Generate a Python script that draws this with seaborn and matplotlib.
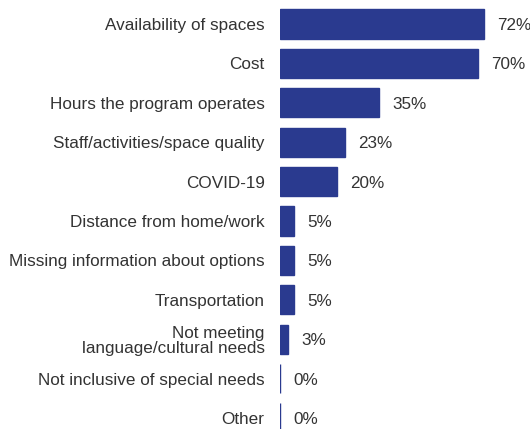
import matplotlib
matplotlib.use("Agg")
import matplotlib.pyplot as plt
import seaborn as sns
import pandas as pd

categories = [
    "Availability of spaces",
    "Cost",
    "Hours the program operates",
    "Staff/activities/space quality",
    "COVID-19",
    "Distance from home/work",
    "Missing information about options",
    "Transportation",
    "Not meeting\nlanguage/cultural needs",
    "Not inclusive of special needs",
    "Other",
]
values = [72, 70, 35, 23, 20, 5, 5, 5, 3, 0, 0]

df = pd.DataFrame({"reason": categories, "pct": values})

sns.set_style("white")
plt.rcParams["font.family"] = ["Liberation Sans", "DejaVu Sans"]

fig = plt.figure(figsize=(5.30, 4.29), dpi=100)
ax = fig.add_axes([280 / 530, 0, 250 / 530, 1])

bar_color = "#2A3A8F"
text_color = "#333333"
sns.barplot(data=df, x="pct", y="reason", orient="h", color=bar_color,
            saturation=1, width=0.74, edgecolor=bar_color, linewidth=1, ax=ax)

ax.set_xlim(0, 250 / 2.83)
ax.set_ylim(10 + 11 / 39.4, -24 / 39.4)
sns.despine(ax=ax, left=True, bottom=True)
ax.set_xticks([])
ax.set_xlabel("")
ax.set_ylabel("")
ax.tick_params(axis="y", length=0, pad=11, labelsize=12.3, labelcolor=text_color)
for lab in ax.get_yticklabels():
    lab.set_horizontalalignment("right")
    lab.set_linespacing(1.0)

for i, v in enumerate(values):
    ax.annotate(f"{v}%", xy=(v, i), xytext=(9.5, 0), textcoords="offset points",
                va="center_baseline", ha="left", fontsize=12.3, color=text_color)

fig.savefig("out.png", dpi=100)
